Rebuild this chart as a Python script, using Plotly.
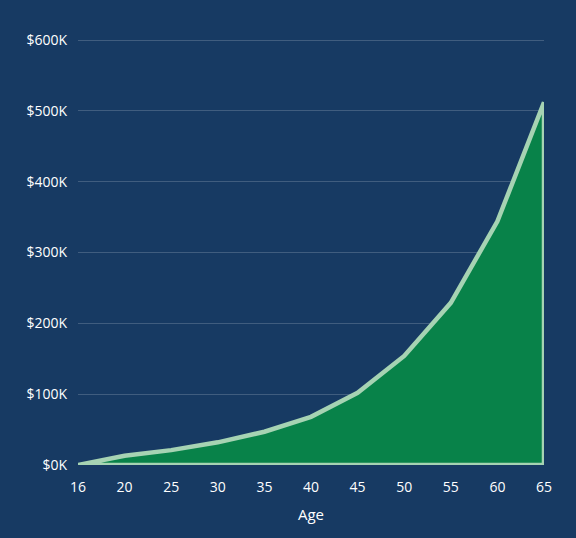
import plotly.graph_objects as go

# age points shown on the axis (evenly spaced categories)
ages = ["16", "20", "25", "30", "35", "40", "45", "50", "55", "60", "65"]
balance = [0, 13000, 21000, 32000, 47000, 68000, 102000, 154000, 229000, 344000, 512000]

y_ticks = [0, 100000, 200000, 300000, 400000, 500000, 600000]
y_labels = ["$0K", "$100K", "$200K", "$300K", "$400K", "$500K", "$600K"]

bg = "#173a63"

# close the shape down to zero so the outline runs along the bottom and right edge
xs = ages + [ages[-1], ages[0]]
ys = balance + [0, 0]

fig = go.Figure()
fig.add_trace(go.Scatter(
    x=xs,
    y=ys,
    mode="lines",
    fill="toself",
    fillcolor="#088249",
    line=dict(color="#a6d3b3", width=4.5),
    hoverinfo="skip",
    showlegend=False
))

fig.update_layout(
    width=576,
    height=538,
    paper_bgcolor=bg,
    plot_bgcolor=bg,
    margin=dict(l=78, r=32, t=39, b=73),
    font=dict(family="Open Sans", size=14, color="#ffffff"),
    xaxis=dict(
        type="category",
        categoryorder="array",
        categoryarray=ages,
        range=[0, len(ages) - 1],
        showgrid=False,
        zeroline=False,
        showline=False,
        ticks="",
        ticklabelstandoff=12,
        title=dict(text="Age", font=dict(size=15), standoff=14)
    ),
    yaxis=dict(
        range=[0, 601500],
        tickvals=y_ticks,
        ticktext=y_labels,
        showgrid=True,
        gridcolor="rgba(255,255,255,0.18)",
        gridwidth=1,
        zeroline=False,
        showline=False,
        ticks="",
        ticklabelstandoff=10
    )
)

fig.write_html(
    "out.html",
    config={"displayModeBar": False},
    post_script="document.body.style.margin='0';"
)
